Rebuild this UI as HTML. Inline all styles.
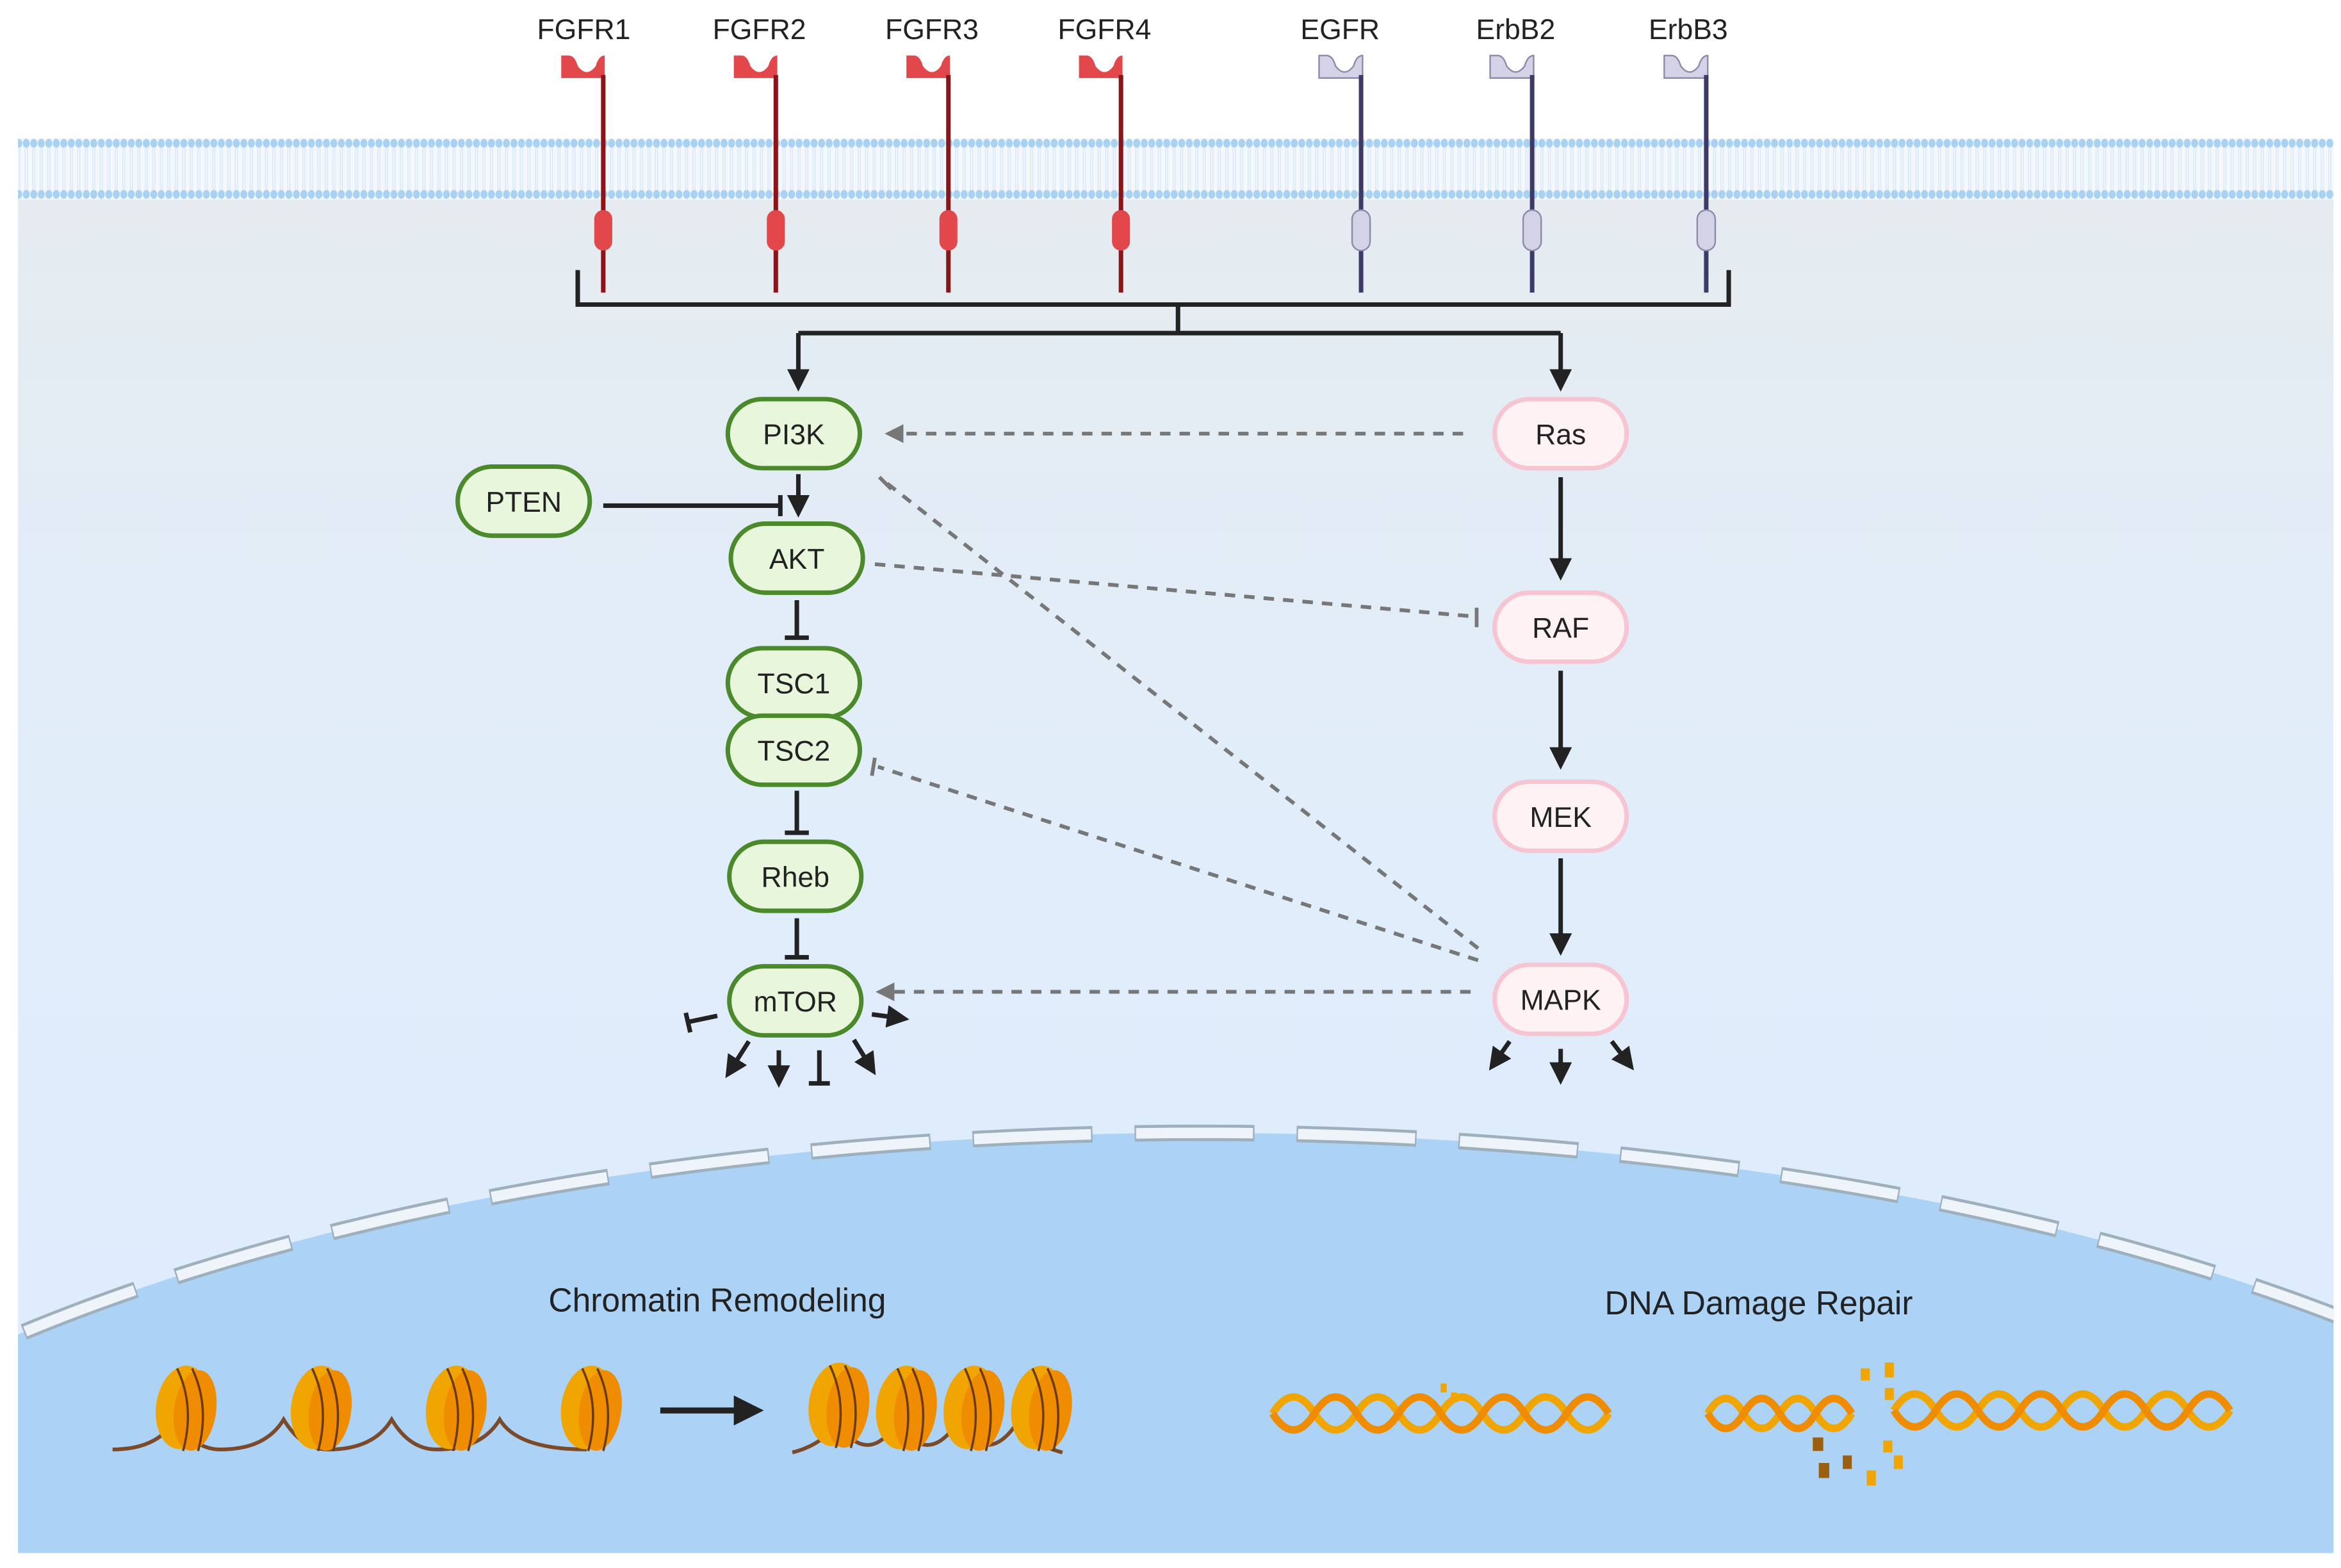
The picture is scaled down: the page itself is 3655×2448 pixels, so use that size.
<!DOCTYPE html>
<html><head><meta charset="utf-8"><style>
html,body{margin:0;padding:0;background:#fff;overflow:hidden;width:3655px;height:2448px}
svg{display:block}
text{font-family:"Liberation Sans",sans-serif;fill:#222}
</style></head><body>
<svg width="3655" height="2448" viewBox="0 0 1560 1045" preserveAspectRatio="none" xmlns="http://www.w3.org/2000/svg">
<defs>
<linearGradient id="cell" x1="0" y1="0" x2="0" y2="1">
<stop offset="0" stop-color="#e6ebef"/><stop offset="0.35" stop-color="#e2edf8"/><stop offset="1" stop-color="#dcecff"/>
</linearGradient>
<pattern id="lip" x="0" y="92" width="5" height="41" patternUnits="userSpaceOnUse">
<rect width="5" height="41" fill="#f4f8fc"/>
<ellipse cx="2.5" cy="3.5" rx="2.3" ry="3" fill="#a9d1f2"/>
<ellipse cx="2.5" cy="37.5" rx="2.3" ry="3" fill="#a9d1f2"/>
<line x1="1.8" y1="6" x2="1.8" y2="35" stroke="#d6e8f8" stroke-width="0.6"/>
<line x1="3.2" y1="6" x2="3.2" y2="35" stroke="#d6e8f8" stroke-width="0.6"/>
</pattern>
<clipPath id="cc"><rect x="12" y="95" width="1543" height="940"/></clipPath>
<marker id="ar" viewBox="0 0 10 10" refX="8" refY="5" markerWidth="5" markerHeight="5" orient="auto"><path d="M0,0 L10,5 L0,10 z" fill="#222"/></marker>
<marker id="ag" viewBox="0 0 10 10" refX="8" refY="5" markerWidth="5" markerHeight="5" orient="auto"><path d="M0,0 L10,5 L0,10 z" fill="#777"/></marker>
</defs>
<rect x="12" y="95" width="1543" height="940" fill="url(#cell)"/>
<rect x="12" y="92" width="1543" height="41" fill="url(#lip)"/>
<g clip-path="url(#cc)">
<ellipse cx="800" cy="1180" rx="1080" ry="425" fill="#acd2f5"/>
<ellipse cx="800" cy="1180" rx="1080" ry="425" fill="none" stroke="#9fb0bd" stroke-width="11" stroke-dasharray="80 28"/>
<ellipse cx="800" cy="1180" rx="1080" ry="425" fill="none" stroke="#eef4fa" stroke-width="7" stroke-dasharray="78 30" stroke-dashoffset="-1"/>
</g>
<g font-size="19" text-anchor="middle">
<text x="389" y="26">FGFR1</text><text x="506" y="26">FGFR2</text><text x="621" y="26">FGFR3</text><text x="736" y="26">FGFR4</text>
<text x="893" y="26">EGFR</text><text x="1010" y="26">ErbB2</text><text x="1125" y="26">ErbB3</text>
</g>
<g id="fg">
<path d="M374,37 v15 h29 v-15 q-4,0 -6,7 q-6,8 -12,0 q-2,-7 -6,-7 z" fill="#e2474b"/>
<line x1="402" y1="50" x2="402" y2="195" stroke="#8a1418" stroke-width="3"/>
<rect x="396" y="140" width="12" height="27" rx="6" fill="#e2474b"/>
</g>
<use href="#fg" x="115"/><use href="#fg" x="230"/><use href="#fg" x="345"/>
<g id="eg">
<path d="M879,37 v15 h29 v-15 q-4,0 -6,7 q-6,8 -12,0 q-2,-7 -6,-7 z" fill="#d3d2e6" stroke="#8a89a8" stroke-width="1"/>
<line x1="907" y1="50" x2="907" y2="195" stroke="#3d3a6a" stroke-width="3"/>
<rect x="901" y="140" width="12" height="27" rx="6" fill="#d3d2e6" stroke="#8a89a8"/>
</g>
<use href="#eg" x="114"/><use href="#eg" x="230"/>
<g stroke="#222" stroke-width="3" fill="none">
<path d="M385,180 V203 H1152 V180"/>
<path d="M785,203 V222"/>
<path d="M532,222 H1040"/>
<path d="M532,222 V258" marker-end="url(#ar)"/>
<path d="M1040,222 V258" marker-end="url(#ar)"/>
<path d="M532,316 V342" marker-end="url(#ar)"/>
<path d="M402,337 H520 M520,330 V344"/>
<path d="M531,400 V425 M523,425 H539"/>
<path d="M531,527 V555 M523,555 H539"/>
<path d="M531,612 V638 M523,638 H539"/>
<path d="M1040,318 V384" marker-end="url(#ar)"/>
<path d="M1040,447 V510" marker-end="url(#ar)"/>
<path d="M1040,572 V634" marker-end="url(#ar)"/>
<path d="M478,677 L459,681 M457,675 L460,688"/>
<path d="M581,676 L603,679" marker-end="url(#ar)"/>
<path d="M499,694 L485,716" marker-end="url(#ar)"/>
<path d="M519,700 V722" marker-end="url(#ar)"/>
<path d="M546,700 V722 M539,722 H553"/>
<path d="M569,693 L582,714" marker-end="url(#ar)"/>
<path d="M1006,694 L994,711" marker-end="url(#ar)"/>
<path d="M1040,699 V720" marker-end="url(#ar)"/>
<path d="M1074,694 L1087,711" marker-end="url(#ar)"/>
</g>
<g stroke="#777" stroke-width="2.5" fill="none" stroke-dasharray="7 6">
<path d="M975,289 H592" marker-end="url(#ag)"/>
<path d="M583,376 L984,411"/>
<path d="M985,632 L591,322"/>
<path d="M985,640 L585,511"/>
<path d="M980,661 H586" marker-end="url(#ag)"/>
</g>
<g stroke="#777" stroke-width="2.5">
<path d="M984,405 V418"/><path d="M586,318 L594,326"/><path d="M583,505 L581,517"/>
</g>
<g stroke="#4a8a2a" stroke-width="3" fill="#e8f6dc">
<rect x="485" y="266" width="88" height="46" rx="23"/>
<rect x="305" y="311" width="88" height="46" rx="23"/>
<rect x="487" y="349" width="88" height="46" rx="23"/>
<rect x="485" y="432" width="88" height="46" rx="23"/>
<rect x="485" y="477" width="88" height="46" rx="23"/>
<rect x="486" y="561" width="88" height="46" rx="23"/>
<rect x="486" y="644" width="88" height="46" rx="23"/>
</g>
<g stroke="#f7c4d2" stroke-width="3" fill="#fff2f5">
<rect x="996" y="266" width="88" height="46" rx="23"/>
<rect x="996" y="395" width="88" height="46" rx="23"/>
<rect x="996" y="521" width="88" height="46" rx="23"/>
<rect x="996" y="643" width="88" height="46" rx="23"/>
</g>
<g font-size="19" text-anchor="middle">
<text x="529" y="296">PI3K</text><text x="349" y="341">PTEN</text><text x="531" y="379">AKT</text>
<text x="529" y="462">TSC1</text><text x="529" y="507">TSC2</text><text x="530" y="591">Rheb</text><text x="530" y="674">mTOR</text>
<text x="1040" y="296">Ras</text><text x="1040" y="425">RAF</text><text x="1040" y="551">MEK</text><text x="1040" y="673">MAPK</text>
<text x="478" y="874" font-size="22">Chromatin Remodeling</text>
<text x="1172" y="876" font-size="22">DNA Damage Repair</text>
</g>
<path d="M75,966 q30,0 42,-20 q12,20 30,20 q30,0 42,-20 q12,20 30,20 q30,0 42,-20 q12,20 30,20 q30,0 42,-20 q12,20 58,20" stroke="#7a4a2a" stroke-width="2.5" fill="none"/>
<g id="nuc">
<ellipse cx="122" cy="938" rx="18" ry="28" fill="#f0a500" transform="rotate(8 122 938)"/>
<ellipse cx="130" cy="940" rx="14" ry="27" fill="#f08c00" transform="rotate(8 130 940)"/>
<path d="M118,912 q12,25 4,55 M128,912 q12,25 4,55" stroke="#6a3a10" stroke-width="1.5" fill="none"/>
</g>
<use href="#nuc" x="90"/><use href="#nuc" x="180"/><use href="#nuc" x="270"/>
<path d="M440,940 H505" stroke="#222" stroke-width="4" marker-end="url(#ar)"/>
<path d="M528,968 q20,-5 30,-20 q10,15 20,15 q10,0 20,-15 q10,15 20,15 q10,0 20,-15 q10,15 20,15 q10,0 20,-15 q10,15 30,20" stroke="#7a4a2a" stroke-width="2.5" fill="none"/>
<use href="#nuc" x="435" y="-2"/><use href="#nuc" x="480" y="0"/><use href="#nuc" x="525" y="0"/><use href="#nuc" x="570" y="0"/>
<g fill="none" stroke-width="5">
<path d="M848,942 q14,-22 28,0 t28,0 t28,0 t28,0 t28,0 t28,0 t28,0 t28,0" stroke="#f0a500"/>
<path d="M848,942 q14,22 28,0 t28,0 t28,0 t28,0 t28,0 t28,0 t28,0 t28,0" stroke="#f08c00"/>
<path d="M1138,942 q12,-20 24,0 t24,0 t24,0 t24,0" stroke="#f0a500"/>
<path d="M1138,942 q12,20 24,0 t24,0 t24,0 t24,0" stroke="#f08c00"/>
<path d="M1262,940 q14,-22 28,0 t28,0 t28,0 t28,0 t28,0 t28,0 t28,0 t28,0" stroke="#f0a500"/>
<path d="M1262,940 q14,22 28,0 t28,0 t28,0 t28,0 t28,0 t28,0 t28,0 t28,0" stroke="#f08c00"/>
</g>
<g fill="#f0a500">
<rect x="1240" y="912" width="6" height="8"/><rect x="1256" y="908" width="6" height="10"/>
<rect x="1256" y="925" width="6" height="8"/><rect x="1255" y="960" width="6" height="8"/>
<rect x="1262" y="970" width="6" height="9"/><rect x="1244" y="980" width="6" height="10"/>
<rect x="960" y="922" width="4" height="6"/><rect x="967" y="928" width="4" height="6"/>
</g>
<g fill="#9a6010"><rect x="1208" y="958" width="7" height="9"/><rect x="1212" y="975" width="7" height="10"/><rect x="1228" y="970" width="6" height="9"/></g>
</svg>
</body></html>
